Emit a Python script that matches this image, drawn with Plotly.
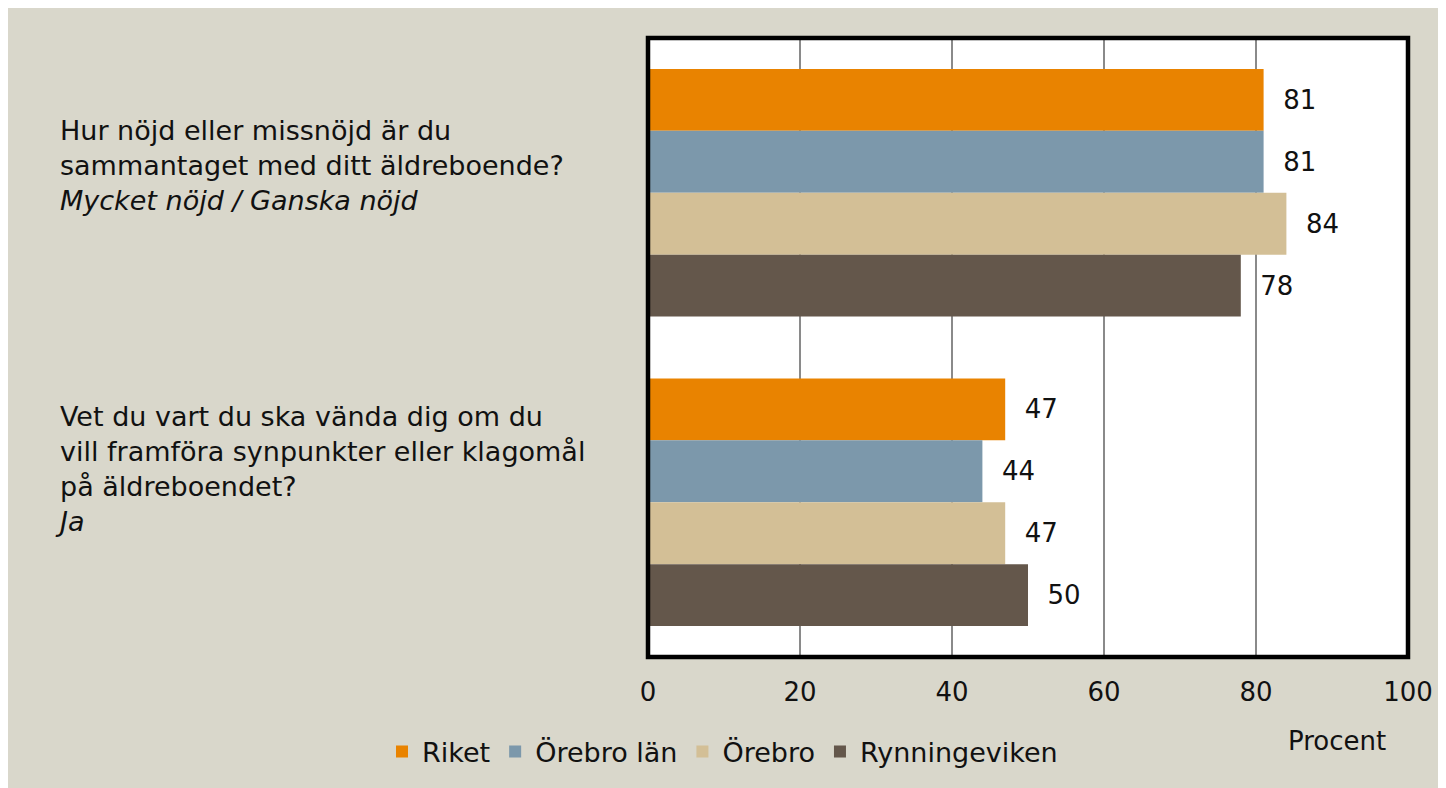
import plotly.graph_objects as go

categories = ["q1", "q2"]
question_labels = [
    "Hur nöjd eller missnöjd är du<br>sammantaget med ditt äldreboende?<br><i>Mycket nöjd / Ganska nöjd</i>",
    "Vet du vart du ska vända dig om du<br>vill framföra synpunkter eller klagomål<br>på äldreboendet?<br><i>Ja</i>",
]
series_names = ["Riket", "Örebro län", "Örebro", "Rynningeviken"]
riket = [81, 47]
orebro_lan = [81, 44]
orebro = [84, 47]
rynningeviken = [78, 50]
series_values = [riket, orebro_lan, orebro, rynningeviken]
colors = ["#E98300", "#7C98AB", "#D3BF96", "#64574B"]
x_ticks = [0, 20, 40, 60, 80, 100]

FONT = "DejaVu Sans"
fsize = 26
tcol = "#111111"

fig = go.Figure()
for name, vals, col in zip(series_names, series_values, colors):
    fig.add_trace(go.Bar(
        y=categories, x=vals, name=name, orientation="h",
        marker=dict(color=col, line=dict(width=0)),
        texttemplate="\u00a0\u00a0%{x}", textposition="outside",
        textfont=dict(family=FONT, size=fsize, color=tcol),
        cliponaxis=False,
    ))

# page has an 8px body margin; figure is placed at (8, 8)
OFF = 8
W, H = 1446 - OFF, 788 - OFF
L, R, T, B = 648 - OFF, 1446 - 1408, 38 - OFF, 788 - 657
pw, ph = W - L - R, H - T - B

def px_x(p):  # screenshot x -> paper
    return (p - OFF - L) / pw

def px_y(p):  # screenshot y -> paper
    return (H - B - (p - OFF)) / ph

shapes = [
    dict(type="rect", xref="paper", yref="paper", layer="above",
         x0=0, x1=1, y0=0, y1=1, line=dict(color="black", width=4.5)),
]

annotations = [
    dict(text=question_labels[0], xref="paper", yref="paper", x=px_x(58), y=px_y(165),
         xanchor="left", yanchor="middle", align="left", showarrow=False,
         font=dict(family=FONT, size=27, color=tcol)),
    dict(text=question_labels[1], xref="paper", yref="paper", x=px_x(53), y=px_y(469),
         xanchor="left", yanchor="middle", align="left", showarrow=False,
         font=dict(family=FONT, size=27, color=tcol)),
    dict(text="Procent", xref="paper", yref="paper", x=px_x(1337), y=px_y(741),
         xanchor="center", yanchor="middle", showarrow=False,
         font=dict(family=FONT, size=fsize, color=tcol)),
]

fig.update_layout(
    width=W, height=H,
    margin=dict(l=L, r=R, t=T, b=B),
    paper_bgcolor="#D9D7CB", plot_bgcolor="white",
    barmode="group", bargap=0.2, bargroupgap=0,
    font=dict(family=FONT, size=fsize, color=tcol),
    shapes=shapes, annotations=annotations,
    showlegend=True,
    legend=dict(orientation="h", x=px_x(382), y=px_y(752), xanchor="left", yanchor="middle",
                bgcolor="rgba(0,0,0,0)", font=dict(family=FONT, size=27, color=tcol),
                traceorder="normal"),
    xaxis=dict(range=[0, 100], tickvals=x_ticks, ticktext=[str(v) for v in x_ticks],
               showgrid=True, gridcolor="#8A8A8A", gridwidth=1.5, zeroline=False,
               showline=False, ticks="outside", ticklen=12, tickcolor="rgba(0,0,0,0)",
               tickfont=dict(family=FONT, size=fsize, color=tcol)),
    yaxis=dict(autorange="reversed", showticklabels=False, showgrid=False, zeroline=False,
               showline=False),
)

fig.write_html("out.html")
